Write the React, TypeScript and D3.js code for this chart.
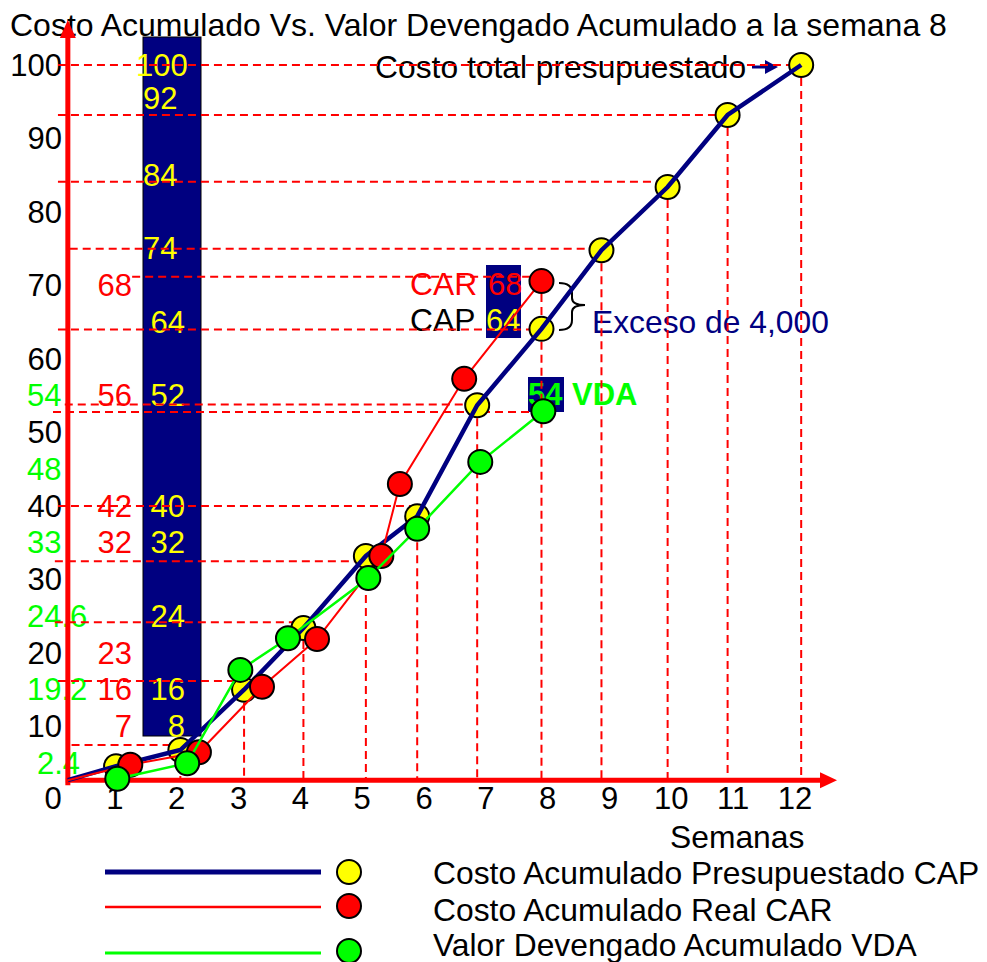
import React, { useEffect, useRef } from "react";
import * as d3 from "d3";

// weeks (x) and cumulative cost in thousands (y)
const capWeeks = [1.02, 2.06, 3.09, 4.05, 5.06, 5.89, 6.86, 7.9, 8.87, 9.94, 10.91, 12.1];
const capValues = [4.6, 6.8, 15.0, 23.4, 33.2, 38.6, 53.7, 64.1, 74.8, 83.4, 93.2, 100];
const carWeeks = [1.25, 2.36, 3.38, 4.27, 5.31, 5.61, 6.65, 7.9];
const carValues = [4.8, 6.5, 15.4, 21.9, 33.2, 43.0, 57.3, 70.6];
const vdaWeeks = [1.04, 2.17, 3.03, 3.8, 5.1, 5.89, 6.91, 7.93];
const vdaValues = [2.9, 5.0, 17.7, 22.0, 30.2, 36.9, 46.0, 52.9];

const xTicks = d3.range(0, 13);
const yTicks = d3.range(10, 101, 10); // the shared "0" is drawn with the x ticks

// number columns beside the y axis
const capLabels = ["100", "92", "84", "74", "64", "52", "40", "32", "24", "16", "8"];
const capLabelRows = [100, 95.5, 85, 75, 65, 55, 40, 35, 25, 15, 10];
const carLabels = ["68", "56", "42", "32", "23", "16", "7"];
const carLabelRows = [70, 55, 40, 35, 20, 15, 10];
const vdaLabels = ["54", "48", "33", "24.6", "19.2", "2.4"];
const vdaLabelRows = [55, 45, 35, 25, 15, 5];

// dashed guide lines: level, start week, end week
const guideValues = [100, 93.2, 84.1, 75, 71.2, 64, 53.8, 52.8, 40, 32.5, 24.2, 16.2, 7.5];
const guideStarts = [0.08, 0.08, 0.08, 0.27, 1.28, 0.08, 0.19, 0.0, 0.08, 0.03, 0.03, 0.08, 0.3];
const guideEnds = [12.1, 10.91, 9.94, 8.87, 7.9, 7.9, 6.86, 7.93, 5.89, 5.06, 4.05, 3.09, 2.06];

const legendNames = [
  "Costo Acumulado Presupuestado CAP",
  "Costo Acumulado Real CAR",
  "Valor Devengado Acumulado VDA",
];

const originWeek = 0.24;
const originValue = 2.7;

const FONT = "'Liberation Sans', Arial, sans-serif";
const NAVY = "#000080";
const RED = "#ff0000";
const GREEN = "#00ff00";
const YELLOW = "#ffff00";

function App() {
  const ref = useRef<SVGSVGElement>(null);

  useEffect(() => {
    const svg = d3.select(ref.current);
    svg.selectAll("*").remove();

    const x = d3.scaleLinear().domain([0, 12]).range([53, 795]);
    const y = d3.scaleLinear().domain([0, 100]).range([800, 65]);

    const txt = (
      g: any,
      s: string,
      tx: number,
      ty: number,
      fill: string,
      size = 31,
      anchor = "start",
      weight = "normal"
    ) =>
      g
        .append("text")
        .attr("x", tx)
        .attr("y", ty)
        .attr("fill", fill)
        .attr("font-size", size)
        .attr("font-family", FONT)
        .attr("font-weight", weight)
        .attr("text-anchor", anchor)
        .attr("dominant-baseline", "central")
        .text(s);

    // left number columns
    vdaLabels.forEach((s, i) =>
      txt(svg, s, s === "2.4" ? 37 : 27, y(vdaLabelRows[i]), GREEN)
    );
    carLabels.forEach((s, i) => txt(svg, s, 132, y(carLabelRows[i]), RED, 31, "end"));

    // navy column
    svg
      .append("rect")
      .attr("x", 143)
      .attr("y", 37)
      .attr("width", 58)
      .attr("height", 699)
      .attr("fill", NAVY)
      .attr("stroke", "#000")
      .attr("stroke-width", 1);

    capLabels.forEach((s, i) => {
      const v = capLabelRows[i];
      if (s === "100") txt(svg, s, 136, y(v), YELLOW);
      else if (v >= 75) txt(svg, s, 143, y(v), YELLOW);
      else txt(svg, s, 185, y(v), YELLOW, 31, "end");
    });

    // y tick labels
    yTicks.forEach((t) => txt(svg, String(t), 62, y(t), "#000", 31, "end"));
    // x tick labels
    xTicks.forEach((t) => txt(svg, String(t), x(t), 798, "#000", 31, "middle"));

    // titles and notes
    txt(svg, "Costo Acumulado Vs. Valor Devengado Acumulado a la semana 8", 10, 25, "#000", 32);
    txt(svg, "Costo total presupuestado", 375, 67, "#000", 31.8);
    svg
      .append("line")
      .attr("x1", 752)
      .attr("x2", 767)
      .attr("y1", 67)
      .attr("y2", 67)
      .attr("stroke", NAVY)
      .attr("stroke-width", 3);
    svg
      .append("path")
      .attr("d", "M765,60 L778,67 L765,74 Z")
      .attr("fill", NAVY);

    txt(svg, "Semanas", 670, 837, "#000", 31.8);

    svg.append("rect").attr("x", 486).attr("y", 265).attr("width", 35).attr("height", 73).attr("fill", NAVY);
    txt(svg, "CAR", 410, 284, RED, 31.8);
    txt(svg, "68", 488, 284, RED, 31);
    txt(svg, "CAP", 410, 320, "#000", 31.8);
    txt(svg, "64", 486, 320, YELLOW, 31);

    svg.append("rect").attr("x", 528).attr("y", 377).attr("width", 36).attr("height", 35).attr("fill", NAVY);
    txt(svg, "54", 528, 394, GREEN, 31, "start", "bold");
    txt(svg, "VDA", 572, 394, GREEN, 31, "start", "bold");

    svg
      .append("path")
      .attr(
        "d",
        "M559,283 Q572,283 572,293 L572,298 Q572,305 585,305 Q572,305 572,312 L572,320 Q572,330 559,330"
      )
      .attr("fill", "none")
      .attr("stroke", "#000")
      .attr("stroke-width", 2);
    txt(svg, "Exceso de 4,000", 592, 322, NAVY, 31.8);

    // dashed guides
    const guides = svg.append("g").attr("stroke", RED).attr("stroke-width", 2).attr("stroke-dasharray", "8,5");
    guideValues.forEach((v, i) =>
      guides
        .append("line")
        .attr("x1", x(guideStarts[i]))
        .attr("x2", x(guideEnds[i]))
        .attr("y1", y(v))
        .attr("y2", y(v))
    );
    capWeeks.forEach((w, i) => {
      if (i === 0) return;
      guides
        .append("line")
        .attr("x1", x(w))
        .attr("x2", x(w))
        .attr("y1", y(capValues[i]))
        .attr("y2", y(originValue));
    });
    guides
      .append("line")
      .attr("x1", x(carWeeks[carWeeks.length - 1]))
      .attr("x2", x(carWeeks[carWeeks.length - 1]))
      .attr("y1", y(carValues[carValues.length - 1]))
      .attr("y2", y(capValues[7]));

    // axes
    const ax = svg.append("g").attr("stroke", RED).attr("stroke-width", 5);
    const ox = x(originWeek);
    const oy = y(originValue);
    ax.append("line").attr("x1", ox).attr("x2", ox).attr("y1", oy + 5).attr("y2", 36);
    ax.append("line").attr("x1", ox - 2).attr("x2", 822).attr("y1", oy).attr("y2", oy);
    svg
      .append("path")
      .attr("d", `M${ox - 8},38 L${ox},20 L${ox + 8},38 Z`)
      .attr("fill", RED);
    svg
      .append("path")
      .attr("d", `M820,${oy - 8} L837,${oy} L820,${oy + 8} Z`)
      .attr("fill", RED);

    // series
    const line = d3
      .line<[number, number]>()
      .x((d) => x(d[0]))
      .y((d) => y(d[1]));
    const pts = (ws: number[], vs: number[]) => ws.map((w, i) => [w, vs[i]] as [number, number]);
    const circles = (ws: number[], vs: number[], fill: string) =>
      svg
        .append("g")
        .selectAll("circle")
        .data(pts(ws, vs))
        .join("circle")
        .attr("cx", (d) => x(d[0]))
        .attr("cy", (d) => y(d[1]))
        .attr("r", 12)
        .attr("fill", fill)
        .attr("stroke", "#000")
        .attr("stroke-width", 2);

    circles(capWeeks, capValues, YELLOW);
    svg
      .append("path")
      .attr("d", line([[originWeek, originValue], ...pts(capWeeks, capValues)]))
      .attr("fill", "none")
      .attr("stroke", NAVY)
      .attr("stroke-width", 4.5);
    svg
      .append("path")
      .attr("d", line([[originWeek, originValue], ...pts(carWeeks, carValues)]))
      .attr("fill", "none")
      .attr("stroke", RED)
      .attr("stroke-width", 2);
    circles(carWeeks, carValues, RED);
    svg
      .append("path")
      .attr("d", line(pts(vdaWeeks, vdaValues)))
      .attr("fill", "none")
      .attr("stroke", GREEN)
      .attr("stroke-width", 2.5);
    circles(vdaWeeks, vdaValues, GREEN);

    // legend
    const legendY = [872, 907, 953];
    const legendCircleY = [872, 906, 951];
    const legendTextY = [873, 910, 945];
    const legendStroke = [NAVY, RED, GREEN];
    const legendWidth = [5, 2.5, 3];
    const legendFill = [YELLOW, RED, GREEN];
    legendNames.forEach((name, i) => {
      svg
        .append("line")
        .attr("x1", 105)
        .attr("x2", 321)
        .attr("y1", legendY[i])
        .attr("y2", legendY[i])
        .attr("stroke", legendStroke[i])
        .attr("stroke-width", legendWidth[i]);
      svg
        .append("circle")
        .attr("cx", 349)
        .attr("cy", legendCircleY[i])
        .attr("r", 12)
        .attr("fill", legendFill[i])
        .attr("stroke", "#000")
        .attr("stroke-width", 2);
      txt(svg, name, 433, legendTextY[i], "#000", 31.8);
    });
  }, []);

  return (
    <svg
      ref={ref}
      width={987}
      height={962}
      style={{ position: "absolute", left: 0, top: 0, background: "#fff" }}
    />
  );
}

export default App;
